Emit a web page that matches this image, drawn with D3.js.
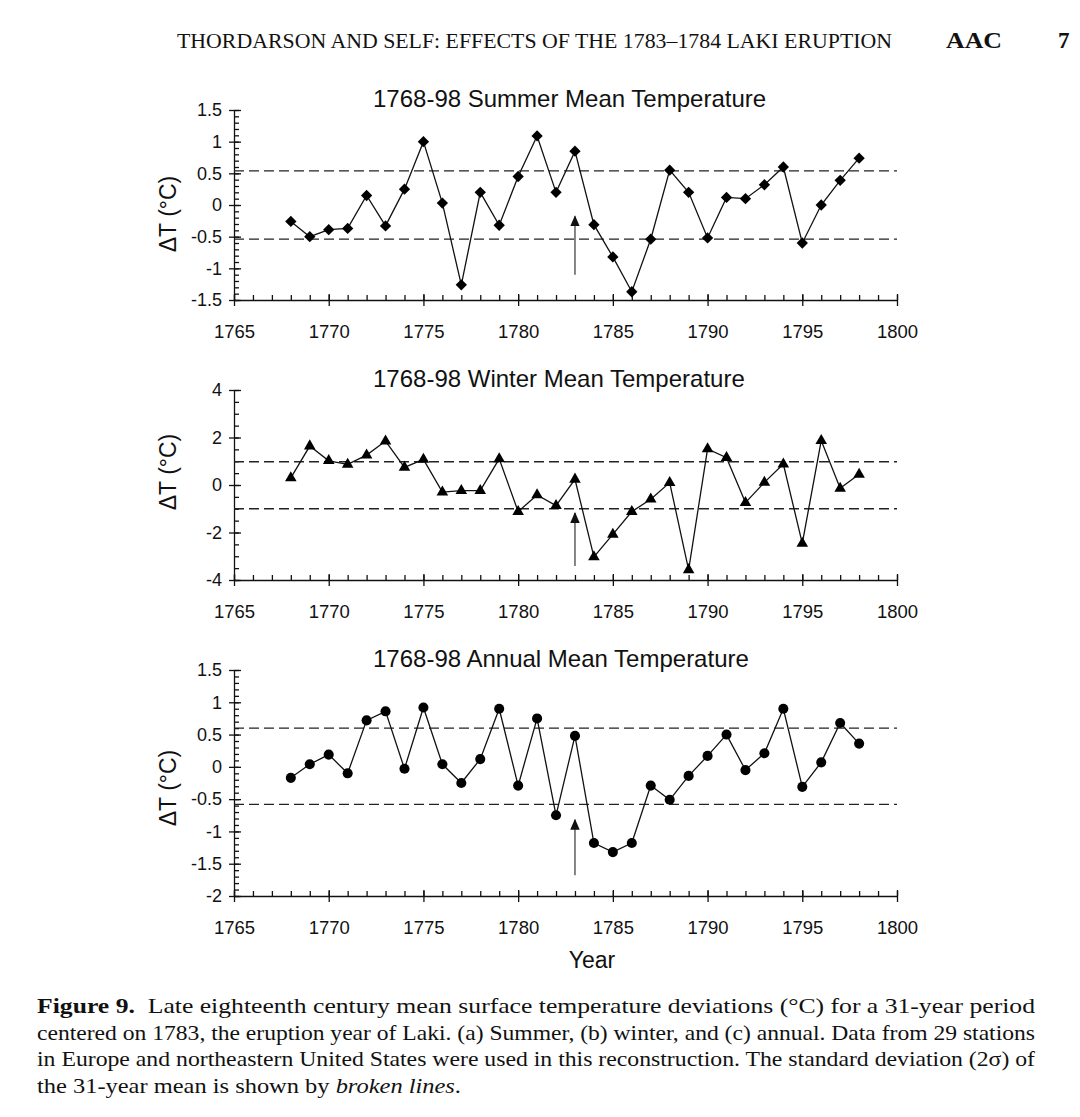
<!DOCTYPE html>
<html>
<head>
<meta charset="utf-8">
<script src="https://cdn.jsdelivr.net/npm/d3@7"></script>
<style>
  body { margin: 0; background: #fff; }
  svg { display: block; }
</style>
</head>
<body>
<svg id="fig"></svg>
<script>
// years of the 31-year window
const years = [1768, 1769, 1770, 1771, 1772, 1773, 1774, 1775, 1776, 1777, 1778,
  1779, 1780, 1781, 1782, 1783, 1784, 1785, 1786, 1787, 1788, 1789, 1790,
  1791, 1792, 1793, 1794, 1795, 1796, 1797, 1798]

// temperature deviations (deg C)
const summerValues = [-0.26, -0.5, -0.39, -0.37, 0.15, -0.33, 0.25, 1.0, 0.03, -1.26, 0.2,
  -0.32, 0.45, 1.09, 0.2, 0.85, -0.31, -0.82, -1.37, -0.54, 0.55, 0.2, -0.52,
  0.12, 0.1, 0.32, 0.6, -0.6, 0.0, 0.39, 0.74]
const winterValues = [0.3, 1.64, 1.02, 0.87, 1.26, 1.85, 0.74, 1.08, -0.3, -0.24, -0.24,
  1.1, -1.12, -0.42, -0.87, 0.24, -3.03, -2.08, -1.12, -0.6, 0.1, -3.57, 1.52,
  1.15, -0.74, 0.11, 0.88, -2.46, 1.87, -0.14, 0.45]
const annualValues = [-0.17, 0.04, 0.19, -0.1, 0.72, 0.86, -0.03, 0.92, 0.04, -0.25, 0.12,
  0.9, -0.29, 0.75, -0.75, 0.48, -1.18, -1.32, -1.18, -0.29, -0.51, -0.14, 0.17,
  0.5, -0.05, 0.21, 0.9, -0.31, 0.07, 0.68, 0.36]

// 2 sigma limits (broken lines)
const summerBand = [-0.54, 0.54]
const winterBand = [-1.0, 0.98]
const annualBand = [-0.58, 0.6]

// eruption arrow at 1783: [from, to] in deg C
const eruptionYear = 1783
const summerArrow = [-1.1, -0.18]
const winterArrow = [-3.41, -1.18]
const annualArrow = [-1.68, -0.82]

// tick labels
const xTicks = [1765, 1770, 1775, 1780, 1785, 1790, 1795, 1800]
const summerTicks = [-1.5, -1, -0.5, 0, 0.5, 1, 1.5]
const winterTicks = [-4, -2, 0, 2, 4]
const annualTicks = [-2, -1.5, -1, -0.5, 0, 0.5, 1, 1.5]

const W = 1080
const H = 1117
const sansFont = "'Liberation Sans', Arial, Helvetica, sans-serif"
const serifFont = "'Liberation Serif', 'Times New Roman', serif"

const svg = d3.select('#fig').attr('width', W).attr('height', H)

const x = d3.scaleLinear().domain([1765, 1800]).range([234, 897])

const panels = [
  { title: '1768-98 Summer Mean Temperature', values: summerValues, band: summerBand,
    arrow: summerArrow, ticks: summerTicks, minorStep: 0.1, top: 110, bottom: 300,
    labelY: 214, marker: 'diamond' },
  { title: '1768-98 Winter Mean Temperature', values: winterValues, band: winterBand,
    arrow: winterArrow, ticks: winterTicks, minorStep: 0.5, top: 390, bottom: 580,
    labelY: 472, marker: 'triangle' },
  { title: '1768-98 Annual Mean Temperature', values: annualValues, band: annualBand,
    arrow: annualArrow, ticks: annualTicks, minorStep: 0.1, top: 670, bottom: 896,
    labelY: 788, marker: 'circle' }
]

// arrow head
svg.append('defs').append('marker')
  .attr('id', 'head')
  .attr('viewBox', '0 0 10 10')
  .attr('preserveAspectRatio', 'none')
  .attr('refX', 9).attr('refY', 5)
  .attr('markerWidth', 11).attr('markerHeight', 9.5)
  .attr('markerUnits', 'userSpaceOnUse')
  .attr('orient', 'auto')
  .append('path')
  .attr('d', 'M0,0L10,5L0,10Z')
  .attr('fill', '#111')

function markerPath (kind) {
  if (kind === 'diamond') return d3.symbol(d3.symbolSquare, 64)()
  if (kind === 'triangle') return d3.symbol(d3.symbolTriangle, 58)()
  return d3.symbol(d3.symbolCircle, 80)()
}

function fmt (d) {
  return String(d)
}

function drawPanel (p) {
  const lo = p.ticks[0]
  const hi = p.ticks[p.ticks.length - 1]
  const y = d3.scaleLinear().domain([lo, hi]).range([p.bottom, p.top])
  const g = svg.append('g').attr('class', 'panel')

  // title
  g.append('text')
    .attr('x', 373).attr('y', p.top - 3)
    .attr('font-family', sansFont).attr('font-size', 24)
    .attr('fill', '#111')
    .text(p.title)

  // y label
  g.append('text')
    .attr('transform', `translate(176,${p.labelY}) rotate(-90)`)
    .attr('text-anchor', 'middle')
    .attr('font-family', sansFont).attr('font-size', 23)
    .attr('fill', '#111')
    .text('\u0394T (\u00B0C)')

  // minor y ticks, pointing inward
  const minor = d3.range(Math.round((hi - lo) / p.minorStep) + 1)
    .map(i => +(lo + i * p.minorStep).toFixed(2))
  g.append('g')
    .attr('transform', `translate(${x(1765)},0)`)
    .call(d3.axisLeft(y).tickValues(minor).tickSize(-5).tickSizeOuter(0).tickFormat(''))
    .call(s => s.select('.domain').remove())

  // major y ticks, crossing the axis
  g.append('g')
    .attr('transform', `translate(${x(1765)},0)`)
    .call(d3.axisLeft(y).tickValues(p.ticks).tickSize(5).tickSizeOuter(0)
      .tickPadding(7).tickFormat(fmt))
    .call(s => s.selectAll('.tick line').attr('x1', 7))
    .call(s => s.selectAll('text').attr('font-size', 18).attr('font-family', sansFont)
      .attr('fill', '#111'))

  // minor x ticks every year, pointing up
  g.append('g')
    .attr('transform', `translate(0,${p.bottom})`)
    .call(d3.axisBottom(x).tickValues(d3.range(1765, 1801)).tickSize(-5).tickSizeOuter(0)
      .tickFormat(''))
    .call(s => s.select('.domain').remove())

  // major x ticks
  g.append('g')
    .attr('transform', `translate(0,${p.bottom})`)
    .call(d3.axisBottom(x).tickValues(xTicks).tickSize(6).tickSizeOuter(0)
      .tickPadding(19).tickFormat(d3.format('d')))
    .call(s => s.selectAll('.tick line').attr('y1', -6))
    .call(s => s.selectAll('text').attr('font-size', 18.5).attr('font-family', sansFont)
      .attr('fill', '#111'))

  g.selectAll('.domain, .tick line').attr('stroke', '#111').attr('stroke-width', 1.3)

  // 2 sigma broken lines
  g.selectAll('line.band').data(p.band).enter().append('line')
    .attr('class', 'band')
    .attr('x1', x(1765)).attr('x2', x(1800))
    .attr('y1', d => y(d)).attr('y2', d => y(d))
    .attr('stroke', '#222').attr('stroke-width', 1.3)
    .attr('stroke-dasharray', '10,5')

  // eruption arrow
  g.append('line')
    .attr('x1', x(eruptionYear)).attr('x2', x(eruptionYear))
    .attr('y1', y(p.arrow[0])).attr('y2', y(p.arrow[1]))
    .attr('stroke', '#333').attr('stroke-width', 1.2)
    .attr('marker-end', 'url(#head)')

  // series line
  const line = d3.line().x((d, i) => x(years[i])).y(d => y(d))
  g.append('path')
    .datum(p.values)
    .attr('d', line)
    .attr('fill', 'none')
    .attr('stroke', '#111')
    .attr('stroke-width', 1.3)

  // markers
  const rot = p.marker === 'diamond' ? ' rotate(45)' : ''
  g.selectAll('path.pt').data(p.values).enter().append('path')
    .attr('class', 'pt')
    .attr('d', markerPath(p.marker))
    .attr('transform', (d, i) => `translate(${x(years[i])},${y(d)})${rot}`)
    .attr('fill', '#000')
}

panels.forEach(drawPanel)

// x label
svg.append('text')
  .attr('x', 592).attr('y', 968)
  .attr('text-anchor', 'middle')
  .attr('font-family', sansFont).attr('font-size', 23)
  .attr('fill', '#111')
  .text('Year')

// running header
svg.append('text')
  .attr('x', 177).attr('y', 48)
  .attr('font-family', serifFont).attr('font-size', 20)
  .attr('textLength', 715).attr('lengthAdjust', 'spacingAndGlyphs')
  .attr('fill', '#111')
  .text('THORDARSON AND SELF: EFFECTS OF THE 1783\u20131784 LAKI ERUPTION')
svg.append('text')
  .attr('x', 946).attr('y', 48)
  .attr('font-family', serifFont).attr('font-size', 23).attr('font-weight', 'bold')
  .attr('textLength', 56).attr('lengthAdjust', 'spacingAndGlyphs')
  .attr('fill', '#111')
  .text('AAC')
svg.append('text')
  .attr('x', 1058).attr('y', 48)
  .attr('font-family', serifFont).attr('font-size', 23).attr('font-weight', 'bold')
  .attr('fill', '#111')
  .text('7')

// caption
const captionLines = [
  [['Figure 9.', 'bold'], ['  Late eighteenth century mean surface temperature deviations (\u00B0C) for a 31-year period', 'normal']],
  [['centered on 1783, the eruption year of Laki. (a) Summer, (b) winter, and (c) annual. Data from 29 stations', 'normal']],
  [['in Europe and northeastern United States were used in this reconstruction. The standard deviation (2\u03C3) of', 'normal']],
  [['the 31-year mean is shown by ', 'normal'], ['broken lines', 'italic'], ['.', 'normal']]
]
const captionWidths = [998, 998, 998, 424]

captionLines.forEach((parts, i) => {
  const t = svg.append('text')
    .attr('x', 37).attr('y', 1013 + i * 26.5)
    .attr('font-family', serifFont).attr('font-size', 21)
    .attr('fill', '#111')
    .attr('textLength', captionWidths[i]).attr('lengthAdjust', 'spacingAndGlyphs')
    .attr('xml:space', 'preserve')
  parts.forEach(([txt, style]) => {
    t.append('tspan')
      .attr('font-weight', style === 'bold' ? 'bold' : 'normal')
      .attr('font-style', style === 'italic' ? 'italic' : 'normal')
      .text(txt)
  })
})
</script>
</body>
</html>
